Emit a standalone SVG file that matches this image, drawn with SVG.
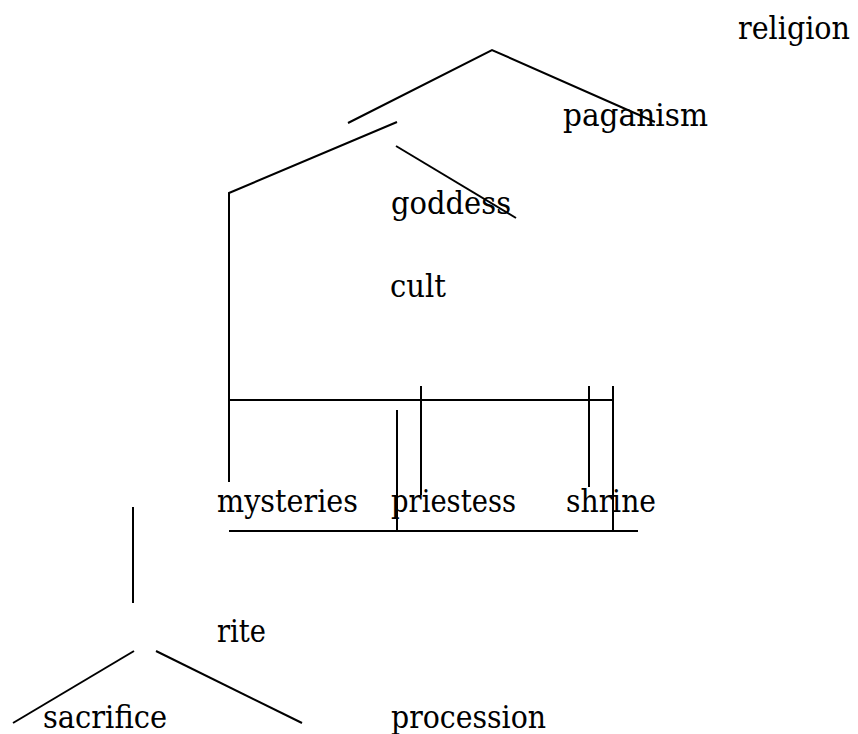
<svg xmlns="http://www.w3.org/2000/svg" width="858" height="734" viewBox="0 0 858 734">
  <style>
    .edge { fill: none; stroke: #000; stroke-width: 2; }
    .lbl { font-family: "DejaVu Serif", serif; font-size: 31px; fill: #000; }
  </style>
  <rect width="858" height="734" fill="#fff"/>
  <g id="connectors">
    <polyline class="edge" points="348,123 492,50 655,122"/>
    <polyline class="edge" points="397,122 229,193 229,482"/>
    <line class="edge" x1="396" y1="146" x2="516" y2="218"/>
    <line class="edge" x1="229" y1="400" x2="613" y2="400"/>
    <line class="edge" x1="421" y1="386" x2="421" y2="495"/>
    <line class="edge" x1="589" y1="386" x2="589" y2="487"/>
    <line class="edge" x1="613" y1="386" x2="613" y2="531"/>
    <line class="edge" x1="397" y1="410" x2="397" y2="531"/>
    <line class="edge" x1="229" y1="531" x2="638" y2="531"/>
    <line class="edge" x1="133" y1="507" x2="133" y2="603"/>
    <line class="edge" x1="134" y1="651" x2="13" y2="723"/>
    <line class="edge" x1="156" y1="651" x2="302" y2="723"/>
  </g>
  <g id="religion"><text class="lbl" x="738" y="39" textLength="112" lengthAdjust="spacingAndGlyphs">religion</text></g>
  <g id="paganism"><text class="lbl" x="563" y="126" textLength="145" lengthAdjust="spacingAndGlyphs">paganism</text></g>
  <g id="goddess"><text class="lbl" x="391" y="214" textLength="120" lengthAdjust="spacingAndGlyphs">goddess</text></g>
  <g id="cult"><text class="lbl" x="390" y="297" textLength="56" lengthAdjust="spacingAndGlyphs">cult</text></g>
  <g id="mysteries"><text class="lbl" x="217" y="512" textLength="141" lengthAdjust="spacingAndGlyphs">mysteries</text></g>
  <g id="priestess"><text class="lbl" x="391" y="512" textLength="125" lengthAdjust="spacingAndGlyphs">priestess</text></g>
  <g id="shrine"><text class="lbl" x="566" y="512" textLength="90" lengthAdjust="spacingAndGlyphs">shrine</text></g>
  <g id="rite"><text class="lbl" x="217" y="642" textLength="49" lengthAdjust="spacingAndGlyphs">rite</text></g>
  <g id="sacrifice"><text class="lbl" x="43" y="728" textLength="124" lengthAdjust="spacingAndGlyphs">sacrifice</text></g>
  <g id="procession"><text class="lbl" x="391" y="728" textLength="155" lengthAdjust="spacingAndGlyphs">procession</text></g>
</svg>
